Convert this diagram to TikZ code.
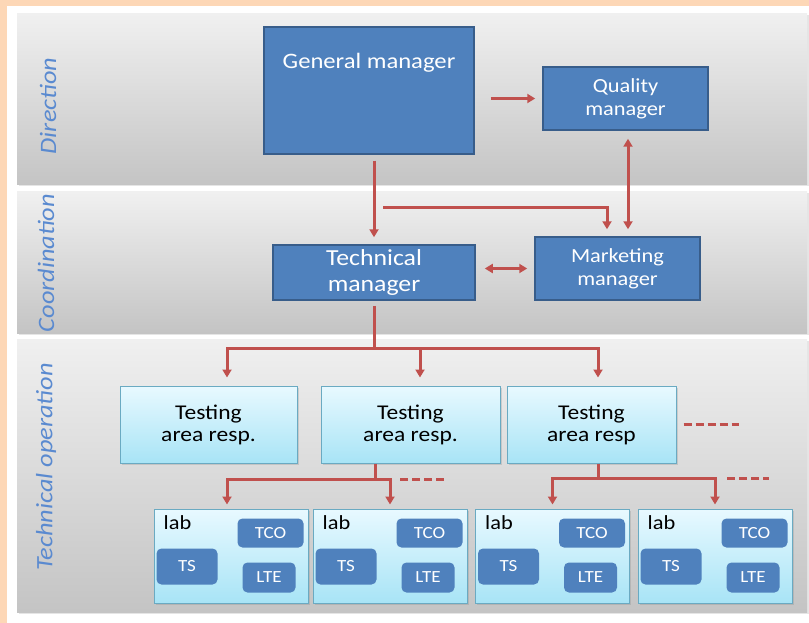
\documentclass[tikz,border=0pt]{standalone}
\usepackage{fontspec}
\setmainfont{Carlito}[FakeStretch=1.12]
\usepackage{tikz}
\usetikzlibrary{arrows.meta,calc,shadows}
\definecolor{peach}{HTML}{FDD7B6}
\definecolor{bandtop}{HTML}{F0F0F0}
\definecolor{bandbot}{HTML}{C4C4C4}
\definecolor{bandtxt}{HTML}{5A8AD0}
\definecolor{mgrblue}{HTML}{4F81BD}
\definecolor{mgredge}{HTML}{385D8A}
\definecolor{linkred}{HTML}{C0504D}
\definecolor{aqtop}{HTML}{E8F9FF}
\definecolor{aqbot}{HTML}{A8E4F6}
\definecolor{aqedge}{HTML}{6AAAC2}

\begin{document}
\begin{tikzpicture}[x=1pt, y=-1pt,
    side/.style={rotate=90, text=bandtxt, font=\fontsize{23.5}{23.5}\selectfont\itshape},
    mgr/.style={draw=mgredge, line width=1.5pt, fill=mgrblue, text=white, align=center,
        font=\fontsize{20}{23}\selectfont},
    area/.style={draw=aqedge, line width=1pt, top color=aqtop, bottom color=aqbot,
        align=center, font=\fontsize{21}{22}\selectfont, minimum height=77pt,
        drop shadow={opacity=0.25, shadow xshift=1.5pt, shadow yshift=-1.5pt}},
    lab/.style={draw=aqedge, line width=1pt, top color=aqtop, bottom color=aqbot,
        minimum width=154pt, minimum height=94pt,
        drop shadow={opacity=0.25, shadow xshift=1.5pt, shadow yshift=-1.5pt}},
    labtxt/.style={inner sep=0pt, font=\fontsize{20}{20}\selectfont},
    unit/.style={fill=mgrblue, rounded corners=5pt, text=white, inner sep=0pt,
        font=\fontsize{17}{17}\selectfont},
    link/.style={draw=linkred, line width=3pt},
    arr/.style={link, -{Triangle[width=9pt,length=8pt]}},
    dbl/.style={link, {Triangle[width=9pt,length=8pt]}-{Triangle[width=9pt,length=8pt]}},
    dashlink/.style={link, dash pattern=on 8pt off 4pt}]

    \useasboundingbox (0,0) rectangle (809,623);
    \fill[peach] (0,0) rectangle (809,623);
    \fill[white] (7,6) rectangle (809,623);

    % bands
    \foreach \ya/\yb in {14/185, 192/333, 339/612}
        \fill[top color=bandtop, bottom color=bandbot,
              drop shadow={opacity=0.2, shadow xshift=1.5pt, shadow yshift=-1.5pt}]
              (17,\ya) rectangle (807,\yb);

    \node[side] (dir) at (48,106) {Direction};
    \node[side] (coord) at (46,263) {Coordination};
    \node[side] (techop) at (46,467) {Technical operation};

    % managers
    \node[mgr, minimum width=210pt, minimum height=127pt] (gm) at (369,90.5) {};
    \node[text=white, font=\fontsize{22}{22}\selectfont] (gmtxt) at ($(gm.north)+(0,37)$) {General manager};
    \node[mgr, minimum width=165pt, minimum height=63pt] (qm) at (625.5,98.5) {Quality\\manager};
    \node[mgr, minimum width=202pt, minimum height=55pt, inner ysep=1pt,
          font=\fontsize{23}{26}\selectfont] (tm) at (374,272.5) {Technical\\manager};
    \node[mgr, minimum width=165pt, minimum height=63pt] (mm) at (617.5,268.5) {Marketing\\manager};

    % testing areas
    \node[area, minimum width=177pt] (ta1) at (208.5,424.5) {Testing\\area resp.};
    \node[area, minimum width=179pt] (ta2) at (410.5,424.5) {Testing\\area resp.};
    \node[area, minimum width=169pt] (ta3) at (591.5,424.5) {Testing\\area resp};

    % labs
    \foreach \n/\x in {1/231, 2/390, 3/552.5, 4/715} {
        \node[lab] (lab\n) at (\x,556) {};
        \node[labtxt, anchor=west] (labname\n) at ($(lab\n.north west)+(10,14)$) {lab};
        \node[unit, minimum width=66pt, minimum height=29pt] (tco\n) at ($(lab\n.north west)+(117,24.5)$) {TCO};
        \node[unit, minimum width=61pt, minimum height=36pt] (ts\n) at ($(lab\n.north west)+(33.5,58)$) {TS};
        \node[unit, minimum width=53pt, minimum height=30pt] (lte\n) at ($(lab\n.north west)+(115.5,69)$) {LTE};
    }

    % connectors
    \draw[arr, shorten <=16pt, shorten >=7pt] (gm.east |- qm.west) -- (qm.west);
    \draw[arr, shorten <=6pt, shorten >=7pt] (tm.north |- gm.south) -- (tm.north);
    \coordinate (gmsplit) at (383,207);
    \draw[arr, shorten >=7pt] (gmsplit) -| ([xshift=-10.5pt]mm.north);
    \draw[dbl, shorten <=8pt, shorten >=7pt] ([xshift=2.5pt]qm.south) -- ([xshift=2.5pt]qm.south |- mm.north);
    \draw[dbl, shorten <=9pt, shorten >=7pt] (tm.east |- mm.west) -- (mm.west);

    \coordinate (bus) at (374,348);
    \draw[link, shorten <=5pt] (tm.south) -- (bus);
    \draw[arr, shorten >=8pt] (bus) -| ([xshift=18.5pt]ta1.north);
    \draw[arr, shorten >=8pt] (bus) -| ([xshift=9.5pt]ta2.north);
    \draw[arr, shorten >=8pt] (bus) -| ([xshift=6.5pt]ta3.north);
    \draw[dashlink] ([xshift=7pt]ta3.east) -- ++(55,0);

    \coordinate (bus2) at (375,479);
    \draw[link] (bus2 |- ta2.south) -- (bus2);
    \draw[arr, shorten >=4pt] (bus2) -| ([xshift=-4pt]lab1.north);
    \draw[arr, shorten >=4pt] (bus2) -| (lab2.north);
    \draw[dashlink] ($(bus2 -| lab2.north)+(10,0)$) -- ++(44,0);

    \coordinate (bus3) at (598,478);
    \draw[link] (bus3 |- ta3.south) -- (bus3);
    \draw[arr, shorten >=4pt] (bus3) -| (lab3.north);
    \draw[arr, shorten >=4pt] (bus3) -| (lab4.north);
    \draw[dashlink] ($(bus3 -| lab4.north)+(12,0)$) -- ++(42,0);
\end{tikzpicture}
\end{document}
